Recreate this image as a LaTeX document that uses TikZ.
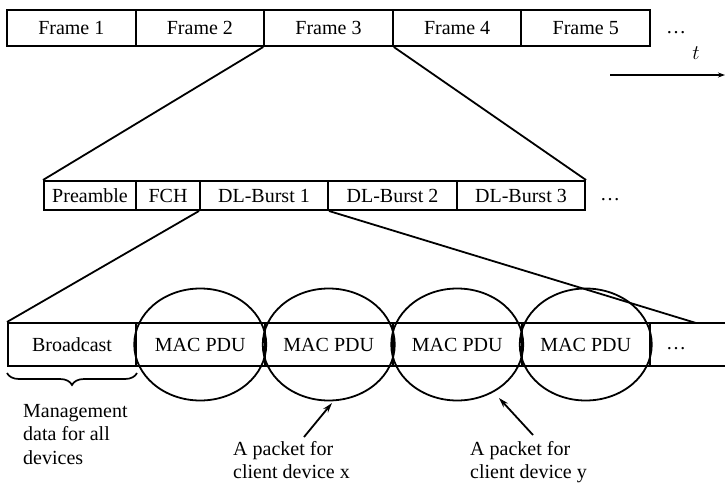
\documentclass[tikz,border=0pt]{standalone}
\usepackage{fontspec}
\setmainfont{Liberation Serif}
\usetikzlibrary{positioning, arrows.meta, shapes.geometric, decorations.pathreplacing}

\begin{document}
\begin{tikzpicture}[
      x=1pt, y=-1pt,
      every node/.style={font=\fontsize{20}{23.5}\selectfont},
      cell/.style={draw, line width=2pt, inner sep=0pt, minimum height=36},
      slot/.style={draw, line width=2pt, inner sep=0pt, minimum height=29},
      pdu/.style={draw, line width=2pt, inner sep=0pt, minimum height=43},
      ring/.style={draw, ellipse, line width=1.8pt, inner sep=0pt,
                  minimum width=132, minimum height=112},
      link/.style={line width=1.8pt},
      note/.style={align=left, inner sep=0pt, anchor=north west},
      pointer/.style={line width=1.8pt, -{Stealth[length=10pt, width=6pt]}},
      ]
      \useasboundingbox (0,0) rectangle (725,482);

      \foreach \i in {1,...,5}
            \node[cell, minimum width=128.6] (f\i) at ({7+128.6*(\i-0.5)}, 28) {Frame \i};
      \node (fdots) at (676, 33) {\ldots};
      \node (tlabel) at (696, 53) {$t$};
      \coordinate (tstart) at (610, 75);
      \coordinate (tend) at (725, 75);
      \draw[pointer, -{Stealth[length=7pt, width=5pt]}] (tstart) -- (tend);

      \node[slot, minimum width=92] (pre) at (90, 195.5) {Preamble};
      \node[slot, minimum width=64] (fch) at (168, 195.5) {FCH};
      \node[slot, minimum width=128] (b1) at (264, 195.5) {DL-Burst 1};
      \node[slot, minimum width=129] (b2) at (392.5, 195.5) {DL-Burst 2};
      \node[slot, minimum width=128] (b3) at (521, 195.5) {DL-Burst 3};
      \node (bdots) at (610, 200) {\ldots};

      \node[pdu, minimum width=128] (bc) at (72, 344.5) {Broadcast};
      \foreach \i in {1,...,4} {
            \node[pdu, minimum width=128.5] (m\i) at ({136+128.5*(\i-0.5)}, 344.5) {MAC PDU};
            \node[ring] (r\i) at (m\i) {};
      }
      \node[pdu, minimum width=110] (tail) at (705, 344.5) {};
      \node (tdots) at (676, 349) {\ldots};
      \coordinate (cut) at (696, 323);

      \draw[link] (f3.south west) -- (pre.north west);
      \draw[link] (f3.south east) -- (b3.north east);
      \draw[link] (b1.south west) -- (bc.north west);
      \draw[link] (b1.south east) -- (cut);

      \draw[line width=1.7pt, decorate, decoration={brace, mirror, amplitude=12pt}]
            ([yshift=-6pt]bc.south west) -- ([yshift=-6pt]bc.south east);
      \node[note] (mgmt) at (23, 404) {Management\\data for all\\devices};

      \node[note] (pktx) at (233, 441) {A packet for\\client device x};
      \coordinate (xfrom) at (304, 437);
      \coordinate (xto) at (332, 403);
      \draw[pointer] (xfrom) -- (xto);

      \node[note] (pkty) at (470, 441) {A packet for\\client device y};
      \coordinate (yfrom) at (533, 435);
      \coordinate (yto) at (499, 398);
      \draw[pointer] (yfrom) -- (yto);
\end{tikzpicture}
\end{document}
